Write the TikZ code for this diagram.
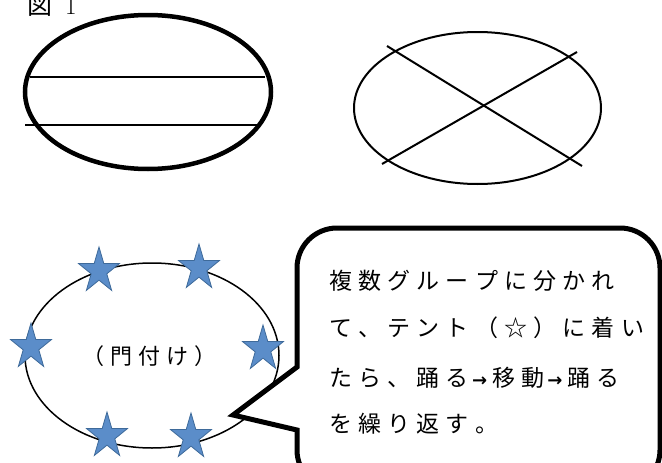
\documentclass[tikz,border=0pt]{standalone}
\usepackage{fontspec}
\newfontfamily\cjk{Noto Sans CJK JP}
\newfontfamily\dv{DejaVu Sans}
\makeatletter
\newcommand\spc[1]{\spc@loop#1\relax}
\def\spc@loop#1{\ifx\relax#1\else#1\hspace{\spcgap}\expandafter\spc@loop\fi}
\makeatother
\newcommand\spcgap{6.2pt}
\newcommand\arr{\hspace{3pt}{\dv\fontsize{18pt}{18pt}\selectfont\textbf{→}}\hspace{5pt}}
\definecolor{starfill}{HTML}{5B8DC9}
\definecolor{starline}{HTML}{3E6A9A}
\tikzset{
  thick ell/.style={line width=4.5pt},
  mid ell/.style={line width=2pt},
  thin ell/.style={line width=1.5pt},
  cjktext/.style={font=\cjk\fontsize{23pt}{23pt}\selectfont, inner sep=0pt},
  starsty/.style={fill=starfill, draw=starline, line width=0.8pt, line join=miter},
  bluestar/.pic={\draw[starsty] (90:1) -- (126:0.382) -- (162:1) -- (198:0.382) -- (234:1) -- (270:0.382) -- (306:1) -- (342:0.382) -- (18:1) -- (54:0.382) -- cycle;}
}
\begin{document}
\begin{tikzpicture}[x=1pt,y=-1pt]
\useasboundingbox (0,0) rectangle (662,463);
% title
\node[inner sep=0pt, anchor=base west] (title) at (27,15) {\fontsize{25pt}{25pt}\selectfont{\cjk 図}\hspace{13pt}1};
% ellipse 1
\coordinate (l1a) at (30,77); \coordinate (l1b) at (265,77);
\coordinate (l2a) at (25,125); \coordinate (l2b) at (258,125);
\draw[line width=1.5pt] (l1a) -- (l1b);
\draw[line width=1.5pt] (l2a) -- (l2b);
\draw[thick ell] (148,92) ellipse [x radius=123, y radius=77];
% ellipse 2
\draw[mid ell] (477.5,108) ellipse [x radius=123.5, y radius=76];
\coordinate (x1a) at (387,46); \coordinate (x1b) at (582,166);
\coordinate (x2a) at (382,164); \coordinate (x2b) at (577,52);
\draw[mid ell] (x1a) -- (x1b);
\draw[mid ell] (x2a) -- (x2b);
% bottom ellipse
\draw[thin ell] (152,355.5) ellipse [x radius=127, y radius=92.5];
\node[cjktext, anchor=base west, font=\cjk\fontsize{22pt}{22pt}\selectfont] (mon) at (82,364) {\spc{（門付け）}};
% stars
\foreach \sx/\sy in {99/271, 199/268, 31/347, 263/349, 107/436, 191/437}
  \pic[xscale=21.5, yscale=-24] at (\sx,\sy) {bluestar};
% callout
\draw[line width=5pt, fill=white, line join=miter]
  (297,367) [rounded corners=40pt] -- (297,228) -- (660,228) -- (660,490) -- (297,490) [sharp corners] -- (297,430) -- (233,415) -- cycle;
\node[cjktext, anchor=base west] (t1) at (329,289) {\spc{複数グループに分かれ}};
\node[cjktext, anchor=base west] (t2) at (329,336) {\spc{て、テント（☆）に着い}};
\node[cjktext, anchor=base west] (t3) at (329,386) {\spc{たら、踊}る\arr\spc{移}動\arr\spc{踊}る};
\node[cjktext, anchor=base west] (t4) at (329,432) {\spc{を繰り返す。}};
\end{tikzpicture}
\end{document}
